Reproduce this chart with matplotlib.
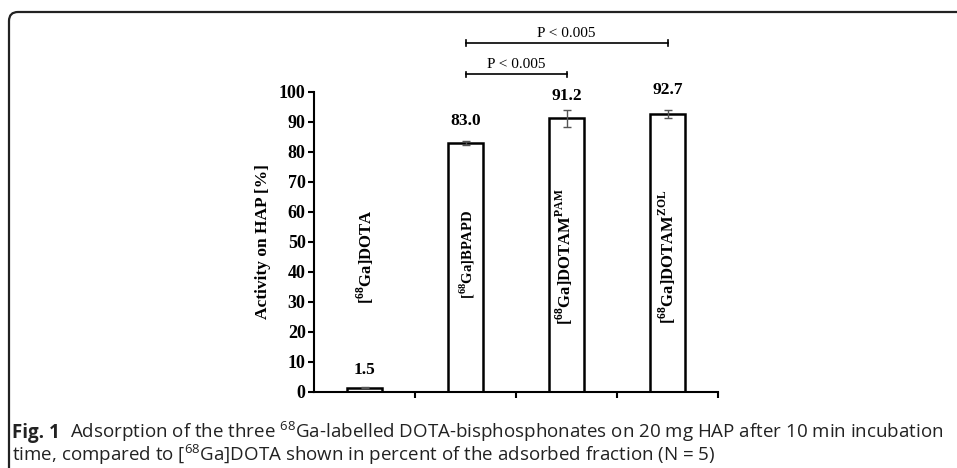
import matplotlib
matplotlib.use('Agg')
import matplotlib.pyplot as plt
from matplotlib.path import Path
from matplotlib.patches import PathPatch

# data
compounds = ['[68Ga]DOTA', '[68Ga]BPAPD', '[68Ga]DOTAM PAM', '[68Ga]DOTAM ZOL']
bar_names = [r'[$^{\mathbf{68}}$Ga]DOTA', r'[$^{\mathbf{68}}$Ga]BPAPD',
             r'[$^{\mathbf{68}}$Ga]DOTAM$^{\mathbf{PAM}}$',
             r'[$^{\mathbf{68}}$Ga]DOTAM$^{\mathbf{ZOL}}$']
activity = [1.5, 83.0, 91.2, 92.7]
errors = [0.3, 0.8, 2.8, 1.2]
value_labels = ['1.5', '83.0', '91.2', '92.7']
yticks = [0, 10, 20, 30, 40, 50, 60, 70, 80, 90, 100]
# significance: (from bar, to bar, bracket height, text)
sig_pairs = [(1, 2, 105.9, 'P < 0.005'), (1, 3, 116.3, 'P < 0.005')]

plt.rcParams['mathtext.fontset'] = 'custom'
plt.rcParams['mathtext.rm'] = 'Liberation Serif'
plt.rcParams['mathtext.bf'] = 'Liberation Serif:bold'
plt.rcParams['mathtext.sf'] = 'Open Sans'

W, H = 957, 468
fig = plt.figure(figsize=(W / 100, H / 100), dpi=100)
ax = fig.add_axes([314 / W, 1 - 392 / H, (718 - 314) / W, 300 / H])

x = list(range(len(activity)))
ax.bar(x, activity, width=0.34, color='white', edgecolor='black', linewidth=1.8, zorder=2)
ax.errorbar(x, activity, yerr=errors, fmt='none', ecolor='#555555', elinewidth=1,
            capsize=3, capthick=1, zorder=3)

serif = 'Liberation Serif'
offs = [3.0, 4.0, 2.0, 4.0]
for i in x:
    ax.text(i, activity[i] + errors[i] + offs[i], value_labels[i], ha='center', va='bottom',
            family=serif, fontweight='bold', fontsize=12.5)

# names written vertically inside / above the bars
name_sizes = [12, 10.5, 12, 12]
name_y = [45, 46, 45, 45]
name_dx = [0.01, 0.02, -0.02, 0.0]
for i in x:
    ax.text(i + name_dx[i], name_y[i], bar_names[i], rotation=90, ha='center', va='center',
            family=serif, fontweight='bold', fontsize=name_sizes[i])

# significance brackets
for a, b, h, txt in sig_pairs:
    ax.plot([a, b], [h, h], color='black', lw=1.2, clip_on=False)
    for xx in (a, b):
        ax.plot([xx, xx], [h - 0.9, h + 0.9], color='black', lw=1.2, clip_on=False)
    ax.text((a + b) / 2, h + 1.0, txt, ha='center', va='bottom', family=serif, fontsize=11)

ax.set_xlim(-0.5, 3.5)
ax.set_ylim(0, 100)
ax.set_yticks(yticks)
ax.set_xticks([0.5, 1.5, 2.5, 3.5])
ax.set_xticklabels([])
for lab in ax.get_yticklabels():
    lab.set_family(serif)
    lab.set_fontweight('bold')
    lab.set_fontsize(13)
ax.tick_params(axis='both', direction='out', length=4, width=1.5, colors='black')
ax.tick_params(axis='y', pad=2)
ax.spines['top'].set_visible(False)
ax.spines['right'].set_visible(False)
ax.spines['left'].set_linewidth(1.5)
ax.spines['bottom'].set_linewidth(1.5)
ax.set_ylabel('Activity on HAP [%]', family=serif, fontweight='bold', fontsize=12.5, labelpad=6)

# rounded frame of the figure panel
r = 9
verts = [(9, 0), (9, H - 12 - r), (9, H - 12), (9 + r, H - 12), (W + 5, H - 12)]
codes = [Path.MOVETO, Path.LINETO, Path.CURVE3, Path.CURVE3, Path.LINETO]
fig.add_artist(PathPatch(Path(verts, codes), transform=None, fill=False,
                         edgecolor='#222222', lw=1.6))

# caption
cap = 'Open Sans'
fig.text(12 / W, 1 - 438 / H, 'Fig. 1', family=cap, fontweight='bold', fontsize=13.5,
         va='baseline', color='#222222')
fig.text(70 / W, 1 - 438 / H,
         r'Adsorption of the three $^{\mathsf{68}}$Ga-labelled DOTA-bisphosphonates on 20 mg HAP after 10 min incubation',
         family=cap, fontsize=13.5, va='baseline', color='#222222')
fig.text(12 / W, 1 - 461 / H,
         r'time, compared to [$^{\mathsf{68}}$Ga]DOTA shown in percent of the adsorbed fraction (N = 5)',
         family=cap, fontsize=13.5, va='baseline', color='#222222')

fig.savefig('out.png', dpi=100)
